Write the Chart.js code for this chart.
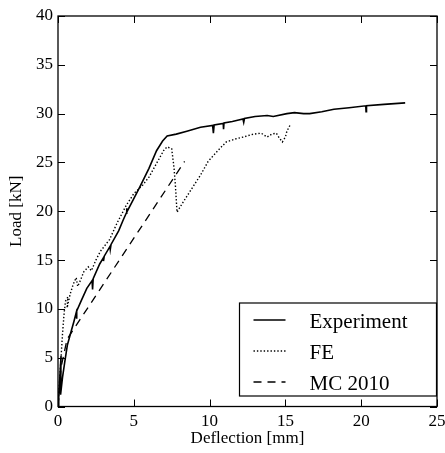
<!DOCTYPE html>
<html>
<head>
<meta charset="utf-8">
<script src="https://cdn.jsdelivr.net/npm/chart.js@4.4.0/dist/chart.umd.min.js"></script>
<style>
  html, body { margin: 0; padding: 0; background: #fff; }
  #wrap { width: 445px; height: 453px; }
</style>
</head>
<body>
<div id="wrap"><canvas id="c" width="445" height="453"></canvas></div>
<script>
// values: [deflection mm, load kN]
const experiment = [
  [0, 0], [0.05, 1.0], [0.2, 5.2], [0.17, 1.2], [0.3, 3.0], [0.45, 4.6], [0.62, 6.3],
  [0.85, 7.6], [1.05, 8.7], [1.2, 9.6], [1.22, 9.0], [1.25, 9.8], [1.55, 10.9],
  [1.9, 12.1], [2.25, 12.9], [2.28, 12.0], [2.32, 13.1], [2.75, 14.6], [2.98, 15.2],
  [3.0, 14.9], [3.05, 15.4], [3.43, 16.4], [3.45, 16.1], [3.5, 16.6], [4.0, 18.0],
  [4.3, 19.1], [4.5, 19.8], [4.52, 20.3], [4.55, 19.9], [5.0, 21.3], [5.4, 22.5],
  [6.0, 24.4], [6.5, 26.2], [6.9, 27.2], [7.2, 27.7], [7.8, 27.9], [8.5, 28.2],
  [9.4, 28.6], [10.2, 28.8], [10.25, 28.0], [10.3, 28.85], [10.9, 29.0], [10.92, 28.4],
  [10.95, 29.05], [11.5, 29.2], [12.2, 29.45], [12.25, 29.1], [12.3, 29.5], [13.0, 29.7],
  [13.8, 29.8], [14.2, 29.7], [15.1, 30.0], [15.6, 30.1], [16.2, 30.0], [16.6, 30.0],
  [17.4, 30.2], [18.2, 30.45], [19.2, 30.6], [20.3, 30.8], [20.32, 30.2], [20.35, 30.8],
  [21.5, 30.95], [22.9, 31.1]
];
const fe = [
  [0, 0], [0.1, 2.5], [0.2, 5.0], [0.3, 7.5], [0.4, 9.5], [0.5, 10.8], [0.65, 11.2],
  [0.6, 10.1], [0.8, 11.5], [1.0, 12.5], [1.2, 13.2], [1.3, 12.3], [1.5, 13.0],
  [1.7, 13.8], [2.0, 14.3], [2.2, 13.9], [2.5, 15.0], [2.8, 15.9], [3.4, 17.1],
  [3.9, 18.8], [4.5, 20.6], [5.0, 21.8], [5.6, 22.7], [6.0, 23.5], [6.5, 24.9],
  [7.0, 26.3], [7.2, 26.6], [7.5, 26.4], [7.65, 24.5], [7.75, 22.5], [7.85, 19.9],
  [8.2, 20.8], [8.9, 22.5], [9.4, 23.7], [9.9, 25.1], [10.6, 26.3], [11.1, 27.1],
  [11.7, 27.4], [12.2, 27.6], [12.9, 27.9], [13.4, 28.0], [13.8, 27.6], [14.1, 27.9],
  [14.4, 28.0], [14.6, 27.5], [14.8, 27.1], [15.0, 27.6], [15.1, 28.2], [15.3, 28.8]
];
const mc2010 = [[0, 0], [0.2, 4.0], [0.6, 6.9], [8.35, 25.1]];

const seriesNames = ["Experiment", "FE", "MC 2010"];
const xTicks = [0, 5, 10, 15, 20, 25];
const yTicks = [0, 5, 10, 15, 20, 25, 30, 35, 40];

const serif = "'Liberation Serif', 'Times New Roman', serif";

const toXY = (arr) => arr.map(([x, y]) => ({ x, y }));

// matplotlib-like frame with ticks pointing inwards on every side
const framePlugin = {
  id: "frame",
  afterDatasetsDraw(chart) {
    const { ctx, chartArea: a, scales } = chart;
    ctx.save();
    ctx.strokeStyle = "#000";
    ctx.lineWidth = 1;
    const len = 7;
    ctx.beginPath();
    xTicks.forEach((v) => {
      const px = Math.round(scales.x.getPixelForValue(v)) + 0.5;
      ctx.moveTo(px, a.bottom); ctx.lineTo(px, a.bottom - len);
      ctx.moveTo(px, a.top); ctx.lineTo(px, a.top + len);
    });
    yTicks.forEach((v) => {
      const py = Math.round(scales.y.getPixelForValue(v)) + 0.5;
      ctx.moveTo(a.left, py); ctx.lineTo(a.left + len, py);
      ctx.moveTo(a.right, py); ctx.lineTo(a.right - len, py);
    });
    ctx.stroke();
    ctx.lineWidth = 1.3;
    ctx.strokeRect(a.left, a.top, a.right - a.left, a.bottom - a.top);
    ctx.restore();
  },
  afterDraw(chart) {
    // legend box, lower right
    const { ctx, chartArea: a } = chart;
    const w = 197, h = 93;
    const bx = a.right - w - 0.5, by = a.bottom - 10.5 - h;
    ctx.save();
    ctx.fillStyle = "#fff";
    ctx.fillRect(bx, by, w, h);
    ctx.strokeStyle = "#000";
    ctx.lineWidth = 1.2;
    ctx.strokeRect(bx, by, w, h);
    ctx.font = "21px " + serif;
    ctx.textBaseline = "alphabetic";
    ctx.fillStyle = "#000";
    chart.data.datasets.forEach((ds, i) => {
      const ly = by + 17 + i * 31;
      ctx.beginPath();
      ctx.setLineDash(ds.borderDash || []);
      ctx.lineWidth = ds.borderWidth;
      ctx.moveTo(bx + 14, ly);
      ctx.lineTo(bx + 46, ly);
      ctx.stroke();
      ctx.setLineDash([]);
      ctx.fillText(ds.label, bx + 70, ly + 7.5);
    });
    ctx.restore();
  }
};

new Chart(document.getElementById("c").getContext("2d"), {
  type: "scatter",
  data: {
    datasets: [
      { label: seriesNames[0], data: toXY(experiment), borderColor: "#000", borderWidth: 1.6 },
      { label: seriesNames[1], data: toXY(fe), borderColor: "#000", borderWidth: 1.4, borderDash: [1.4, 2] },
      { label: seriesNames[2], data: toXY(mc2010), borderColor: "#000", borderWidth: 1.3, borderDash: [8, 6] }
    ].map((d) => ({ ...d, showLine: true, pointRadius: 0, tension: 0, fill: false }))
  },
  options: {
    responsive: false,
    animation: false,
    layout: { padding: { top: 16, right: 8, left: 0, bottom: 0 } },
    plugins: { legend: { display: false }, tooltip: { enabled: false } },
    scales: {
      x: {
        type: "linear", min: 0, max: 25,
        afterBuildTicks: (s) => { s.ticks = xTicks.map((v) => ({ value: v })); },
        afterFit: (s) => { s.height = 46.5; s.paddingLeft = 0; s.paddingRight = 0; },
        grid: { display: false, drawTicks: false },
        border: { display: false },
        ticks: { color: "#000", padding: 5, font: { family: serif, size: 17 } },
        title: { display: true, text: "Deflection [mm]", color: "#000",
          font: { family: serif, size: 17 }, padding: { top: 0, bottom: 4 } }
      },
      y: {
        type: "linear", min: 0, max: 40,
        afterBuildTicks: (s) => { s.ticks = yTicks.map((v) => ({ value: v })); },
        afterFit: (s) => { s.width = 58; s.paddingTop = 0; s.paddingBottom = 0; },
        grid: { display: false, drawTicks: false },
        border: { display: false },
        ticks: { color: "#000", padding: 5, font: { family: serif, size: 17 } },
        title: { display: true, text: "Load [kN]", color: "#000",
          font: { family: serif, size: 17 }, padding: { top: 6, bottom: 0 } }
      }
    }
  },
  plugins: [framePlugin]
});
</script>
</body>
</html>
